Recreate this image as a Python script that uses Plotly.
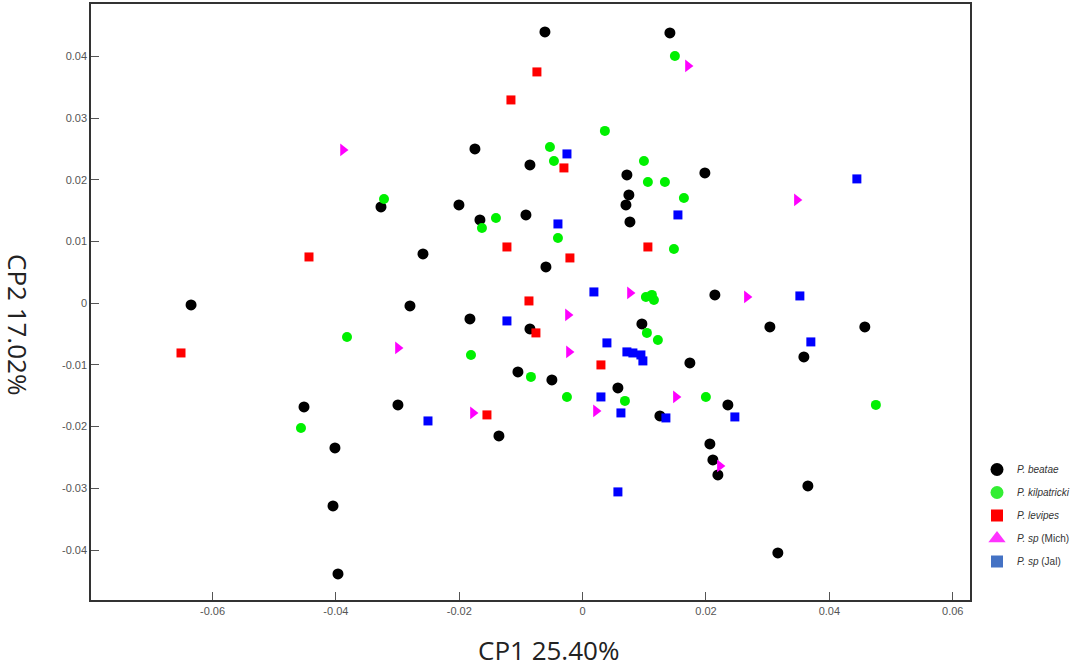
import plotly.graph_objects as go

# --- data (CP1, CP2) ---
beatae_x = [-0.00611, 0.01415, -0.01746, -0.00854, 0.00718, 0.01982, 0.00750, 0.00702, -0.03269, -0.02005,
            -0.01665, -0.00919, 0.00767, -0.02588, -0.00595, -0.06348, -0.02799, 0.02144, -0.01827, -0.00854,
            0.00961, 0.03036, 0.04575, 0.03587, 0.01739, -0.01049, -0.00498, 0.00572, -0.04517, -0.02994,
            0.02355, 0.01253, -0.01357, -0.04015, 0.02063, 0.02112, 0.02193, 0.03652, -0.04047, 0.03165, -0.03966]
beatae_y = [0.04397, 0.04381, 0.02501, 0.02241, 0.02079, 0.02112, 0.01755, 0.01593, 0.01561, 0.01593,
            0.01350, 0.01431, 0.01318, 0.00799, 0.00588, -0.00028, -0.00044, 0.00135, -0.00254, -0.00417,
            -0.00335, -0.00384, -0.00384, -0.00870, -0.00968, -0.01113, -0.01243, -0.01373, -0.01681, -0.01648,
            -0.01648, -0.01827, -0.02151, -0.02345, -0.02280, -0.02540, -0.02783, -0.02961, -0.03285, -0.04047, -0.04387]

kilp_x = [0.01496, 0.00361, -0.00530, -0.00465, 0.00994, 0.01058, 0.01334, 0.01642, -0.03220, -0.01405,
          -0.01632, -0.00400, 0.01480, 0.01026, 0.01123, 0.01156, 0.01042, 0.01220, -0.03820, -0.01810,
          -0.00838, -0.00254, 0.00686, 0.01998, -0.04566, 0.04754]
kilp_y = [0.04008, 0.02793, 0.02533, 0.02306, 0.02306, 0.01966, 0.01966, 0.01707, 0.01690, 0.01382,
          0.01220, 0.01058, 0.00880, 0.00102, 0.00135, 0.00053, -0.00481, -0.00595, -0.00546, -0.00838,
          -0.01194, -0.01519, -0.01583, -0.01519, -0.02021, -0.01648]

levipes_x = [-0.00741, -0.01162, -0.00303, -0.04436, -0.01227, -0.00206, 0.01058, -0.00870, -0.00757,
             0.00297, -0.01551, -0.06511]
levipes_y = [0.03749, 0.03295, 0.02193, 0.00750, 0.00912, 0.00734, 0.00912, 0.00037, -0.00481,
             -0.01000, -0.01810, -0.00806]

mich_x = [0.01707, -0.03885, 0.03473, 0.00767, -0.00238, 0.02663, -0.02994, -0.00222, 0.01512,
          -0.01778, 0.00216, 0.02225]
mich_y = [0.03846, 0.02485, 0.01674, 0.00167, -0.00190, 0.00102, -0.00724, -0.00789, -0.01519,
          -0.01778, -0.01746, -0.02637]

jal_x = [-0.00254, -0.00400, 0.01545, 0.04446, 0.00183, 0.03522, -0.01227, 0.00394, 0.00718, 0.00815,
         0.00945, 0.00977, 0.03700, 0.00297, 0.00621, 0.01350, 0.02468, -0.02507, 0.00572]
jal_y = [0.02420, 0.01285, 0.01431, 0.02015, 0.00183, 0.00118, -0.00287, -0.00643, -0.00789, -0.00806,
         -0.00838, -0.00935, -0.00627, -0.01519, -0.01778, -0.01859, -0.01843, -0.01908, -0.03058]

x_ticks = [-0.06, -0.04, -0.02, 0, 0.02, 0.04, 0.06]
x_tick_text = ["-0.06", "-0.04", "-0.02", "0", "0.02", "0.04", "0.06"]
y_ticks = [-0.04, -0.03, -0.02, -0.01, 0, 0.01, 0.02, 0.03, 0.04]
y_tick_text = ["-0.04", "-0.03", "-0.02", "-0.01", "0", "0.01", "0.02", "0.03", "0.04"]

legend_names = ["<i>P. beatae</i>", "<i>P. kilpatricki</i>", "<i>P. levipes</i>",
                "<i>P. sp</i> (Mich)", "<i>P. sp</i> (Jal)"]

fig = go.Figure()

series = [
    (beatae_x, beatae_y, "circle", "#000000", 11),
    (kilp_x, kilp_y, "circle", "#00F000", 10),
    (levipes_x, levipes_y, "square", "#FF0000", 9),
    (mich_x, mich_y, "triangle-right", "#FF00FF", 11),
    (jal_x, jal_y, "square", "#0000FF", 9),
]
for xs, ys, sym, col, sz in series:
    fig.add_trace(go.Scatter(x=xs, y=ys, mode="markers", showlegend=False,
                             marker=dict(symbol=sym, color=col, size=sz, line=dict(width=0))))

legend_styles = [
    ("circle", "#000000", 13),
    ("circle", "#33EE33", 13),
    ("square", "#FF0000", 12),
    ("triangle-up", "#FF33FF", 15),
    ("square", "#4472C4", 12),
]
for i, (name, (sym, col, sz)) in enumerate(zip(legend_names, legend_styles)):
    fig.add_trace(go.Scatter(x=[None], y=[None], mode="markers", name=name, legendgroup=str(i),
                             marker=dict(symbol=sym, color=col, size=sz, line=dict(width=0))))

axis_common = dict(showgrid=False, zeroline=False, showline=True, mirror=True,
                   linecolor="#333333", linewidth=1.5, ticks="inside", ticklen=8,
                   tickcolor="#555555", tickwidth=1,
                   tickfont=dict(family="Liberation Sans, Arial", size=11, color="#555555"))

fig.update_layout(
    width=1073, height=669,
    paper_bgcolor="white", plot_bgcolor="white",
    margin=dict(l=91, r=103, t=4, b=69, autoexpand=False),
    xaxis=dict(range=[-0.0797, 0.0628], tickvals=x_ticks, ticktext=x_tick_text, **axis_common),
    yaxis=dict(range=[-0.0481, 0.0485], tickvals=y_ticks, ticktext=y_tick_text, **axis_common),
    legend=dict(x=(977 - 91) / 879, y=(600 - 455) / 596, xanchor="left", yanchor="top",
                bgcolor="rgba(0,0,0,0)",
                font=dict(family="Liberation Sans, Arial", size=10, color="#333333"),
                tracegroupgap=4, itemwidth=30),
    annotations=[
        dict(text="CP1 25.40%", xref="paper", yref="paper", x=(548 - 91) / 879, y=-(650 - 600) / 596,
             xanchor="center", yanchor="middle", showarrow=False,
             font=dict(family="Open Sans, Liberation Sans", size=26, color="#222222")),
        dict(text="CP2 17.02%", xref="paper", yref="paper", x=(18 - 91) / 879, y=(600 - 324) / 596,
             xanchor="center", yanchor="middle", showarrow=False, textangle=90,
             font=dict(family="Open Sans, Liberation Sans", size=26, color="#222222")),
    ],
)

fig.write_html("out.html", config={"displayModeBar": False},
               post_script="document.body.style.margin='0';")
